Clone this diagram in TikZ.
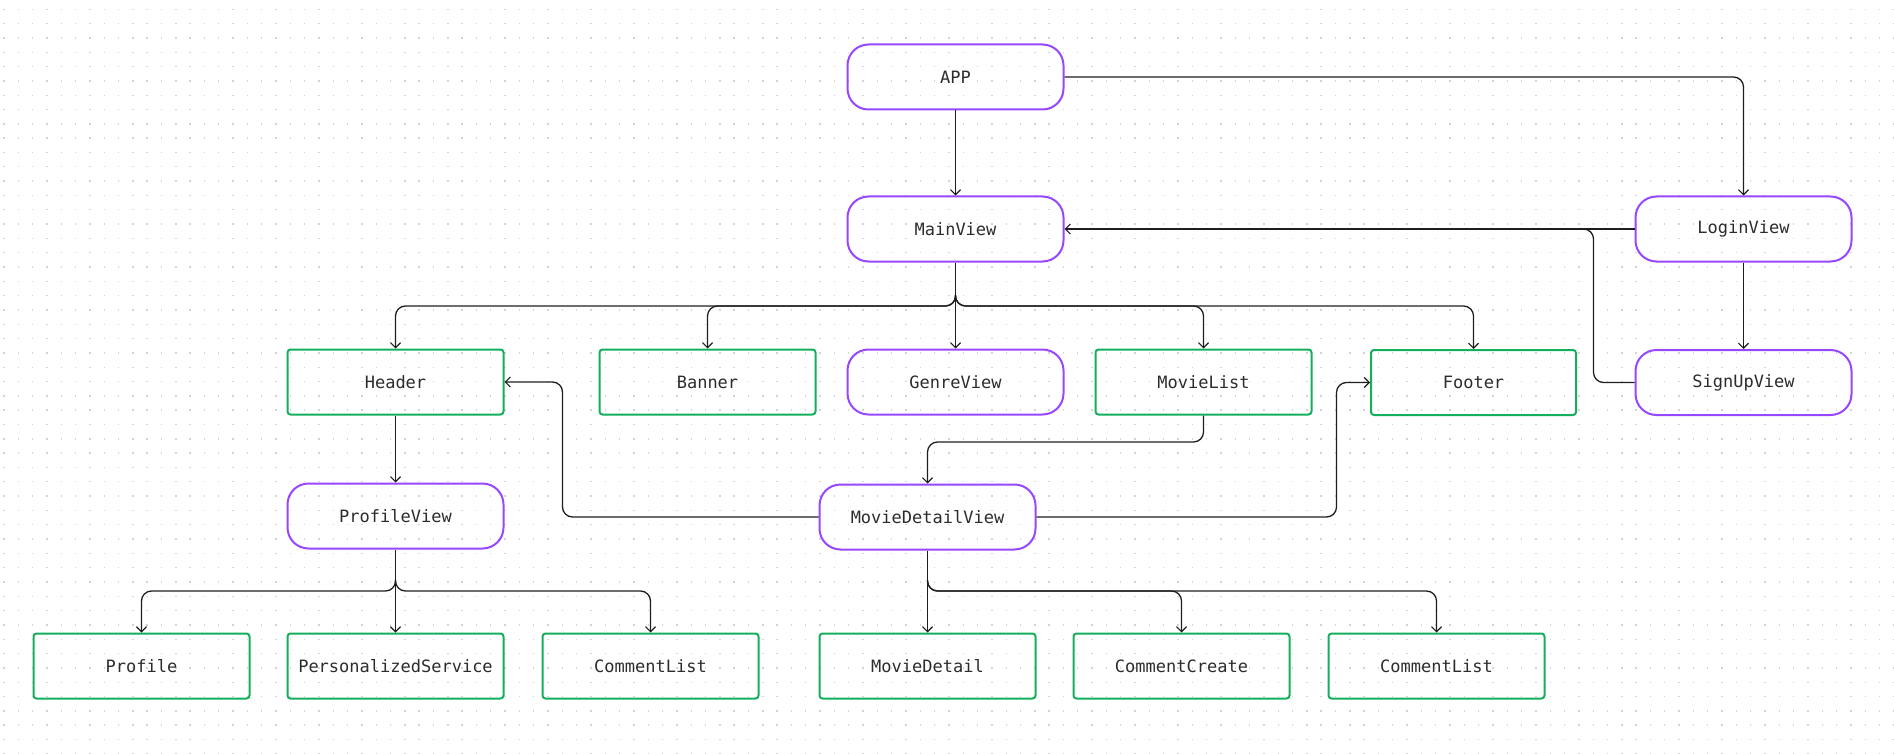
\documentclass[tikz,border=0pt]{standalone}
\usepackage{fontspec}
\newfontfamily\diagmono{DejaVu Sans Mono}
\usetikzlibrary{arrows.meta}
\definecolor{vpurple}{HTML}{9747FF}
\definecolor{vgreen}{HTML}{14AE5C}
\definecolor{vtext}{HTML}{2C2C2C}
\definecolor{vline}{HTML}{1E1E1E}
\definecolor{vdot}{HTML}{D4D4D4}
\tikzset{
  base/.style={draw, line width=2pt, minimum width=216pt, minimum height=65pt, inner sep=0pt,
    font=\diagmono\fontsize{17}{20}\selectfont, text=vtext},
  viewbox/.style={base, draw=vpurple, rounded corners=21pt},
  compbox/.style={base, draw=vgreen, rounded corners=3pt},
  conn/.style={draw=vline, line width=1.3pt, rounded corners=10pt,
    -{Straight Barb[length=5pt,width=10pt,line width=1.2pt]}},
  dotrow/.style={draw=vdot, line width=1.4pt, dash pattern=on 1.4pt off 12.917pt}
}
\begin{document}
\begin{tikzpicture}[x=1pt,y=-1pt]
\useasboundingbox (0,0) rectangle (1894,754);
\foreach \j in {0,...,52} {
  \draw[dotrow] (3.3,{9.3+14.317*\j}) -- (1894,{9.3+14.317*\j});
}
% nodes
\node[viewbox] (app) at (955.5,77) {APP};
\node[viewbox] (main) at (955.5,229) {MainView};
\node[viewbox] (login) at (1743.5,229) {LoginView};
\node[viewbox] (signup) at (1743.5,382.5) {SignUpView};
\node[compbox] (header) at (395.5,382) {Header};
\node[compbox] (banner) at (707.5,382) {Banner};
\node[viewbox] (genre) at (955.5,382) {GenreView};
\node[compbox] (movielist) at (1203.5,382) {MovieList};
\node[compbox, minimum width=205pt] (footer) at (1473.5,382.5) {Footer};
\node[viewbox] (profileview) at (395.5,516) {ProfileView};
\node[viewbox] (mdview) at (927.5,517) {MovieDetailView};
\node[compbox] (profile) at (141.5,666) {Profile};
\node[compbox] (pservice) at (395.5,666) {PersonalizedService};
\node[compbox] (clist) at (650.5,666) {CommentList};
\node[compbox] (mdetail) at (927.5,666) {MovieDetail};
\node[compbox] (ccreate) at (1181.5,666) {CommentCreate};
\node[compbox] (clist2) at (1436.5,666) {CommentList};
% coordinates
\coordinate (appturn) at (1743.5,77);
\coordinate (suend) at (1570,229);
\coordinate (sutop) at (1593.5,229);
\coordinate (subot) at (1593.5,382.5);
\coordinate (mbusu) at (955.5,295);
\coordinate (mbus) at (955.5,306);
\coordinate (hl1) at (562.5,517);
\coordinate (hl2) at (562.5,382);
\coordinate (fr1) at (1336.5,517);
\coordinate (fr2) at (1336.5,382.5);
\coordinate (ml1) at (1203.5,442);
\coordinate (ml2) at (927.5,442);
\coordinate (pbusu) at (395.5,580);
\coordinate (pbus) at (395.5,591);
\coordinate (dbusu) at (927.5,580);
\coordinate (dbus) at (927.5,591);
% connectors
\draw[conn] (app.south) -- (main.north);
\draw[conn] (app.east) -- (appturn) -- (login.north);
\draw[conn] (login.west) -- (main.east);
\draw[conn, -] (signup.west) -- (subot) -- (sutop) -- (suend);
\draw[conn] (login.south) -- (signup.north);
\draw[conn] (main.south) -- (genre.north);
\draw[conn] (mbusu) -- (mbus) -| (header.north);
\draw[conn] (mbusu) -- (mbus) -| (banner.north);
\draw[conn] (mbusu) -- (mbus) -| (movielist.north);
\draw[conn] (mbusu) -- (mbus) -| (footer.north);
\draw[conn] (header.south) -- (profileview.north);
\draw[conn] (mdview.west) -- (hl1) -- (hl2) -- (header.east);
\draw[conn] (mdview.east) -- (fr1) -- (fr2) -- (footer.west);
\draw[conn] (movielist.south) -- (ml1) -- (ml2) -- (mdview.north);
\draw[conn] (profileview.south) -- (pservice.north);
\draw[conn] (pbusu) -- (pbus) -| (profile.north);
\draw[conn] (pbusu) -- (pbus) -| (clist.north);
\draw[conn] (mdview.south) -- (mdetail.north);
\draw[conn] (dbusu) -- (dbus) -| (ccreate.north);
\draw[conn] (dbusu) -- (dbus) -| (clist2.north);
\end{tikzpicture}
\end{document}
